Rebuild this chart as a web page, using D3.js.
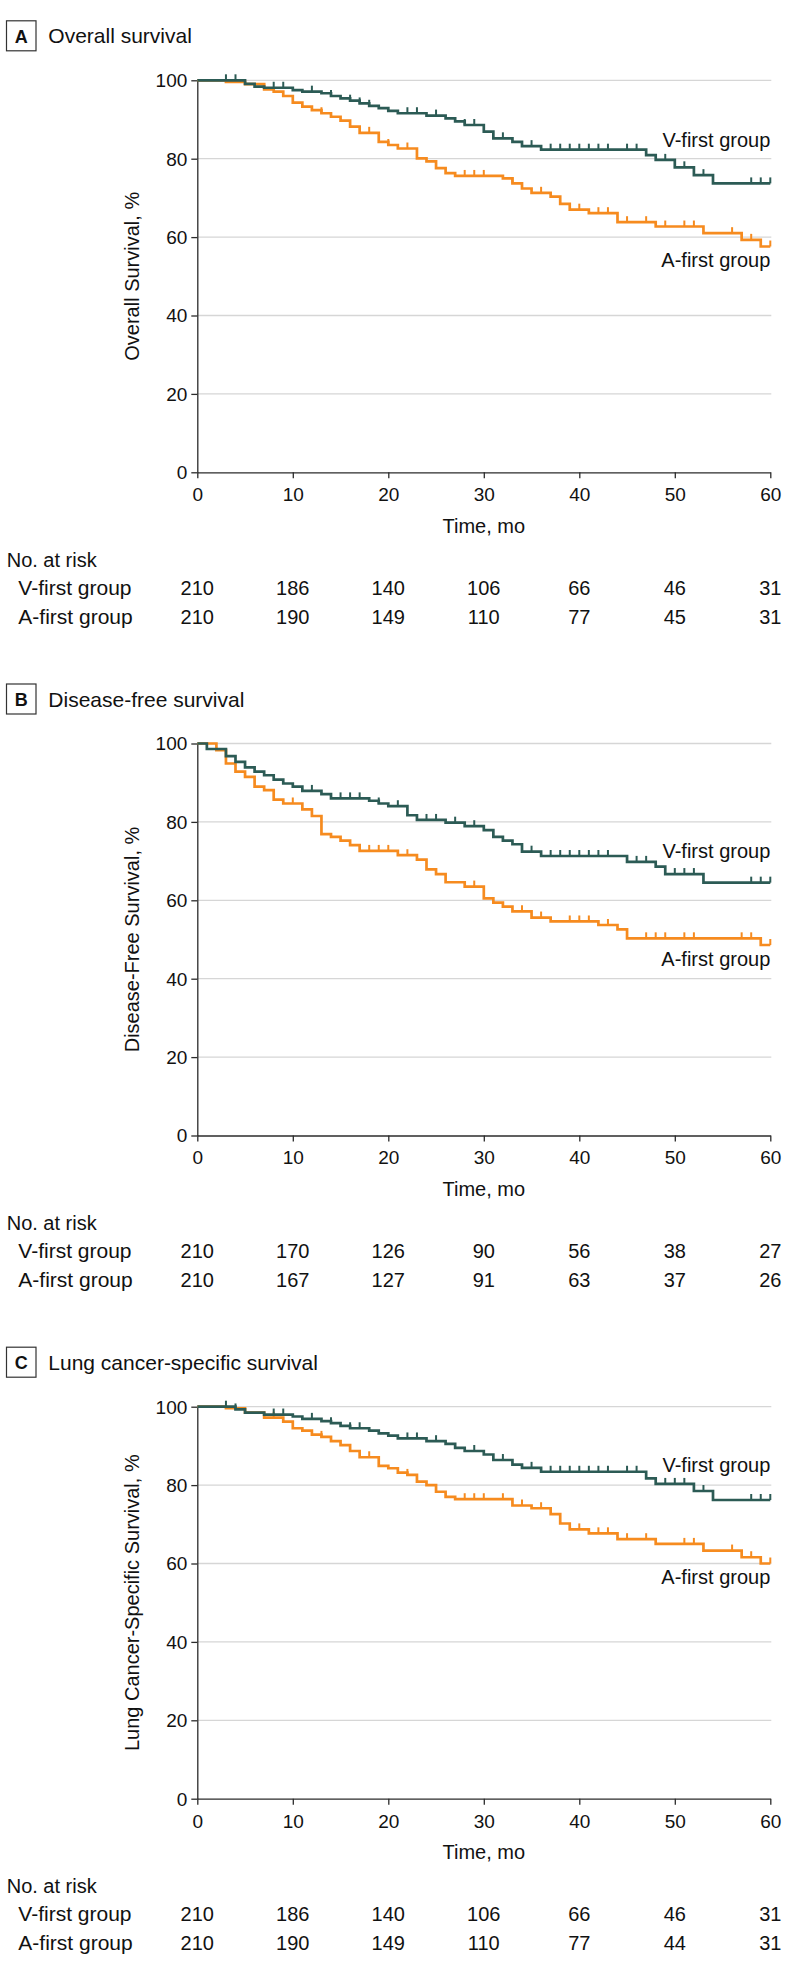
<!DOCTYPE html>
<html>
<head>
<meta charset="utf-8">
<script src="https://cdn.jsdelivr.net/npm/d3@7"></script>
<style>
  html, body { margin: 0; padding: 0; background: #fff; }
  svg { display: block; font-family: "Liberation Sans", Arial, sans-serif; }
</style>
</head>
<body>
<svg id="chart" width="794" height="1972"></svg>
<script>
// ---------- Data ----------
const panelLetters = ["A", "B", "C"];
const panelTitles = ["Overall survival", "Disease-free survival", "Lung cancer-specific survival"];
const yLabels = ["Overall Survival, %", "Disease-Free Survival, %", "Lung Cancer-Specific Survival, %"];
const groupNames = ["V-first group", "A-first group"];
const xTicks = [0, 10, 20, 30, 40, 50, 60];
const yTicks = [0, 20, 40, 60, 80, 100];
const riskTimes = [0, 10, 20, 30, 40, 50, 60];

// Panel A — overall survival
const vTimesA = [0,5,6,7,10,11,13,14,15,16,17,18,19,20,21,24,26,27,28,30,31,33,34,36,47,48,50,52,54];
const vSurvA  = [100,99.1,98.4,98.1,97.5,97.1,96.7,96.0,95.4,94.8,94.1,93.5,92.9,92.2,91.6,91.0,90.3,89.5,88.6,86.9,85.2,84.3,83.2,82.3,80.9,79.7,77.8,75.8,73.7];
const vCensA  = [3,4,8,9,12,14,16,17,18,22,23,25,28,29,32,35,37,38,39,40,41,42,43,45,46,49,51,53,58,59,60];
const aTimesA = [0,3,5,7,8,9,10,11,12,13,14,15,16,17,19,20,21,23,24,25,26,27,32,33,34,35,37,38,39,41,44,48,53,57,59];
const aSurvA  = [100,99.6,99.0,97.7,97.1,96.0,94.3,93.3,92.4,91.6,90.7,89.7,88.2,86.6,84.3,83.5,82.6,80.1,79.3,77.6,76.3,75.6,75.0,73.7,72.4,71.3,70.3,68.5,67.0,66.1,63.8,62.7,61.0,59.3,57.6];
const aCensA  = [7,13,18,20,22,28,29,30,33,36,40,42,43,45,47,49,51,52,56,58,60];
const riskVA = [210,186,140,106,66,46,31];
const riskAA = [210,190,149,110,77,45,31];

// Panel B — disease-free survival
const vTimesB = [0,1,3,4,5,6,7,8,9,10,11,13,14,18,19,20,22,23,26,28,30,31,32,33,34,36,45,48,49,53];
const vSurvB  = [100,98.6,96.8,95.3,93.9,92.8,91.9,90.8,89.8,89.0,87.9,87.1,86.0,85.4,84.7,84.0,81.7,80.5,79.8,78.9,77.9,76.2,75.2,74.3,72.4,71.3,69.8,68.6,66.7,64.5];
const vCensB  = [12,15,16,17,19,21,24,25,27,29,35,37,38,39,40,41,42,43,46,47,50,51,52,58,59,60];
const aTimesB = [0,2,3,4,5,6,7,8,9,11,12,13,14,15,16,17,21,23,24,25,26,28,30,31,32,33,35,37,42,44,45,59];
const aSurvB  = [100,98.3,94.9,92.8,91.5,89.0,88.1,85.7,84.7,83.2,81.5,76.9,76.2,75.2,74.1,72.6,71.5,70.4,67.9,66.7,64.6,63.5,60.5,59.4,58.4,57.2,55.6,54.6,53.7,52.6,50.3,48.6];
const aCensB  = [10,18,19,20,22,29,34,36,39,40,41,43,47,48,49,51,52,57,58,60];
const riskVB = [210,170,126,90,56,38,27];
const riskAB = [210,167,127,91,63,37,26];

// Panel C — lung cancer-specific survival
const vTimesC = [0,4,5,7,10,11,13,14,15,16,18,19,20,21,24,26,27,28,30,31,33,34,36,47,48,52,54];
const vSurvC  = [100,99.3,98.5,98.0,97.5,96.9,96.3,95.8,95.1,94.5,93.9,93.2,92.6,91.9,91.2,90.5,89.5,88.7,87.8,86.4,85.2,84.4,83.4,81.7,80.3,78.5,76.2];
const vCensC  = [3,4,8,9,12,14,16,17,22,23,25,29,32,35,37,38,39,40,41,42,43,45,46,49,50,51,53,58,59,60];
const aTimesC = [0,3,5,7,9,10,11,12,13,14,15,16,17,19,20,21,22,23,24,25,26,27,33,35,37,38,39,41,44,48,53,57,59];
const aSurvC  = [100,99.6,98.5,97.2,96.2,94.5,93.9,92.9,92.3,91.2,90.2,88.7,87.1,84.9,84.3,83.2,82.6,80.9,80.0,78.3,77.0,76.4,74.8,74.1,72.6,70.2,68.7,67.7,66.2,65.0,63.3,61.6,60.0];
const aCensC  = [8,13,18,22,28,29,30,32,34,36,40,42,43,45,47,51,52,56,58,60];
const riskVC = [210,186,140,106,66,46,31];
const riskAC = [210,190,149,110,77,44,31];

// ---------- Assemble ----------
const panels = [
  { v: [vTimesA, vSurvA, vCensA], a: [aTimesA, aSurvA, aCensA], risk: [riskVA, riskAA] },
  { v: [vTimesB, vSurvB, vCensB], a: [aTimesB, aSurvB, aCensB], risk: [riskVB, riskAB] },
  { v: [vTimesC, vSurvC, vCensC], a: [aTimesC, aSurvC, aCensC], risk: [riskVC, riskAC] }
];
// label anchor values (in % units) for the in-plot group labels
const labelLevels = [[82.9, 52.3], [70.9, 43.2], [83.4, 54.8]];

const colors = ["#2c5b55", "#f68b1f"];
const axisColor = "#2b2b2b";
const gridColor = "#d6d6d6";

const svg = d3.select("#chart");
const X0 = 197.3, X1 = 770.3, PH = 392;
const x = d3.scaleLinear().domain([0, 60]).range([X0, X1]);

panels.forEach((p, i) => {
  const top = 80.3 + i * 663.2;
  const y = d3.scaleLinear().domain([0, 100]).range([top + PH, top]);
  const g = svg.append("g");

  // title box
  g.append("rect").attr("x", 6.5).attr("y", top - 59.5).attr("width", 29.5).attr("height", 30)
    .attr("fill", "none").attr("stroke", "#333").attr("stroke-width", 1.2);
  g.append("text").attr("x", 21.2).attr("y", top - 37.8).attr("text-anchor", "middle")
    .attr("font-size", 18).attr("font-weight", "bold").attr("fill", "#111").text(panelLetters[i]);
  g.append("text").attr("x", 48.3).attr("y", top - 37).attr("font-size", 21).attr("fill", "#111")
    .text(panelTitles[i]);

  // gridlines
  g.append("g").selectAll("line").data(yTicks.filter(d => d > 0)).join("line")
    .attr("x1", X0).attr("x2", X1 + 1).attr("y1", d => y(d)).attr("y2", d => y(d))
    .attr("stroke", gridColor).attr("stroke-width", 1.3);

  // axes
  const yAxis = g.append("g").attr("transform", `translate(${X0},0)`)
    .call(d3.axisLeft(y).tickValues(yTicks).tickSize(6).tickSizeOuter(0).tickPadding(4));
  const xAxis = g.append("g").attr("transform", `translate(0,${top + PH})`)
    .call(d3.axisBottom(x).tickValues(xTicks).tickSize(6).tickSizeOuter(0).tickPadding(9.5));
  [yAxis, xAxis].forEach(ax => {
    ax.select(".domain").attr("stroke", axisColor).attr("stroke-width", 1.3);
    ax.selectAll(".tick line").attr("stroke", axisColor).attr("stroke-width", 1.3);
    ax.selectAll(".tick text").attr("font-size", 19).attr("fill", "#111")
      .attr("font-family", "'Liberation Sans', Arial, sans-serif");
  });
  yAxis.selectAll(".tick text").attr("dy", "0.34em");

  // y label
  g.append("text").attr("transform", `translate(139.3,${top + PH / 2}) rotate(-90)`)
    .attr("text-anchor", "middle").attr("font-size", 20).attr("fill", "#111").text(yLabels[i]);
  // x label
  g.append("text").attr("x", (X0 + X1) / 2).attr("y", top + 452.7).attr("text-anchor", "middle")
    .attr("font-size", 20).attr("fill", "#111").text("Time, mo");

  // curves
  const line = d3.line().x(d => x(d[0])).y(d => y(d[1])).curve(d3.curveStepAfter);
  [p.a, p.v].forEach((grp) => {
    const ci = grp === p.v ? 0 : 1;
    const [times, surv, cens] = grp;
    const pts = times.map((t, j) => [t, surv[j]]);
    pts.push([60, surv[surv.length - 1]]);
    g.append("path").datum(pts).attr("d", line).attr("fill", "none")
      .attr("stroke", colors[ci]).attr("stroke-width", 2.7).attr("stroke-linejoin", "miter");
    const valAt = t => { let v = surv[0]; times.forEach((tt, j) => { if (tt <= t) v = surv[j]; }); return v; };
    g.append("g").selectAll("line").data(cens).join("line")
      .attr("x1", d => x(d)).attr("x2", d => x(d))
      .attr("y1", d => y(valAt(d))).attr("y2", d => y(valAt(d)) - 6)
      .attr("stroke", colors[ci]).attr("stroke-width", 2);
  });

  // group labels
  groupNames.forEach((nm, k) => {
    g.append("text").attr("x", X1).attr("y", y(labelLevels[i][k])).attr("text-anchor", "end")
      .attr("font-size", 20).attr("fill", "#111").text(nm);
  });

  // risk table
  g.append("text").attr("x", 6.7).attr("y", top + 486.4).attr("font-size", 20).attr("fill", "#111")
    .text("No. at risk");
  groupNames.forEach((nm, k) => {
    const by = top + 514.7 + k * 29;
    g.append("text").attr("x", 18.3).attr("y", by).attr("font-size", 21).attr("fill", "#111").text(nm);
    g.append("g").selectAll("text").data(p.risk[k]).join("text")
      .attr("x", (d, j) => x(riskTimes[j])).attr("y", by).attr("text-anchor", "middle")
      .attr("font-size", 20).attr("fill", "#111").text(d => d);
  });
});
</script>
</body>
</html>
